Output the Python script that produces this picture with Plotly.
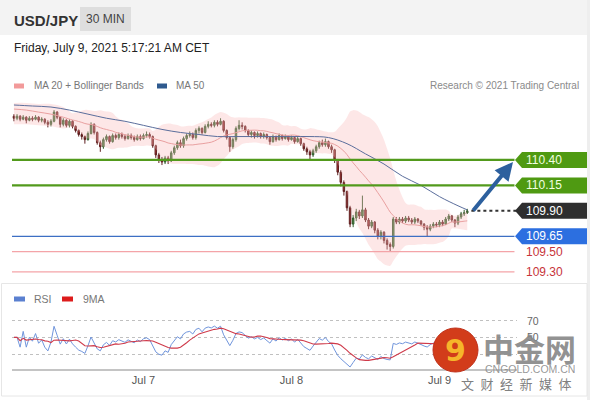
import pandas as pd
import numpy as np
import plotly.graph_objects as go

# ---------------- data ----------------
SYMBOL = "USD/JPY"
TIMEFRAME = "30 MIN"
STAMP = "Friday, July 9, 2021 5:17:21 AM CET"
START = "2021-07-06 03:00"
first_open = 110.83

close = [110.81,110.83,110.80,110.82,110.79,110.81,110.80,110.82,110.79,110.80,
         110.77,110.75,110.78,110.87,110.82,110.75,110.79,110.74,110.78,110.73,
         110.69,110.65,110.63,110.60,110.66,110.75,110.67,110.57,110.53,110.60,
         110.63,110.58,110.64,110.62,110.65,110.63,110.61,110.64,110.62,110.60,
         110.63,110.61,110.64,110.65,110.63,110.54,110.45,110.40,110.38,110.42,
         110.39,110.47,110.52,110.57,110.54,110.61,110.64,110.65,110.62,110.69,
         110.71,110.67,110.73,110.75,110.74,110.77,110.75,110.78,110.69,110.62,
         110.53,110.60,110.71,110.74,110.73,110.69,110.65,110.67,110.64,110.66,
         110.63,110.65,110.62,110.58,110.63,110.60,110.64,110.61,110.63,110.60,
         110.62,110.58,110.61,110.56,110.51,110.48,110.45,110.49,110.53,110.57,
         110.55,110.58,110.53,110.50,110.40,110.28,110.18,110.09,109.93,109.77,
         109.83,109.89,109.85,109.91,109.81,109.75,109.79,109.71,109.65,109.69,
         109.61,109.57,109.55,109.82,109.79,109.82,109.80,109.83,109.81,109.79,
         109.82,109.80,109.77,109.74,109.72,109.75,109.77,109.76,109.79,109.77,
         109.82,109.85,109.81,109.78,109.84,109.87,109.88,109.90]

high = [110.85,110.85,110.84,110.84,110.83,110.83,110.83,110.84,110.83,110.82,
        110.81,110.79,110.80,110.89,110.88,110.83,110.81,110.80,110.80,110.79,
        110.74,110.70,110.67,110.64,110.68,110.77,110.76,110.68,110.59,110.62,
        110.65,110.64,110.66,110.66,110.67,110.67,110.65,110.66,110.66,110.64,
        110.65,110.65,110.66,110.68,110.67,110.64,110.55,110.47,110.43,110.44,
        110.44,110.49,110.54,110.59,110.60,110.63,110.66,110.68,110.67,110.71,
        110.73,110.72,110.75,110.78,110.77,110.79,110.79,110.81,110.79,110.70,
        110.63,110.62,110.73,110.79,110.77,110.74,110.70,110.69,110.68,110.68,
        110.67,110.67,110.66,110.63,110.65,110.64,110.66,110.65,110.65,110.64,
        110.64,110.63,110.63,110.62,110.57,110.53,110.50,110.51,110.55,110.59,
        110.60,110.61,110.59,110.55,110.51,110.41,110.30,110.20,110.10,109.95,
        109.86,109.92,109.91,110.05,109.93,109.83,109.81,109.80,109.73,109.71,
        109.70,109.63,109.59,109.84,109.84,109.84,109.84,109.85,109.85,109.83,
        109.84,109.83,109.81,109.78,109.76,109.77,109.79,109.79,109.81,109.81,
        109.84,109.87,109.86,109.82,109.86,109.89,109.91,109.92]

low = [110.78,110.79,110.78,110.79,110.76,110.78,110.78,110.79,110.77,110.77,
       110.75,110.72,110.73,110.77,110.80,110.72,110.73,110.72,110.72,110.71,
       110.67,110.63,110.60,110.56,110.59,110.65,110.65,110.55,110.48,110.51,
       110.58,110.56,110.57,110.60,110.60,110.61,110.59,110.60,110.60,110.58,
       110.59,110.59,110.60,110.62,110.61,110.52,110.42,110.37,110.35,110.36,
       110.36,110.38,110.45,110.50,110.52,110.52,110.59,110.62,110.60,110.60,
       110.66,110.65,110.66,110.71,110.72,110.72,110.73,110.74,110.67,110.60,
       110.48,110.51,110.58,110.69,110.70,110.67,110.63,110.62,110.61,110.62,
       110.61,110.61,110.60,110.55,110.57,110.58,110.59,110.59,110.60,110.58,
       110.59,110.56,110.57,110.54,110.49,110.45,110.40,110.43,110.47,110.51,
       110.53,110.53,110.51,110.47,110.37,110.25,110.14,110.05,109.90,109.74,
       109.74,109.80,109.82,109.83,109.79,109.72,109.73,109.68,109.62,109.62,
       109.58,109.52,109.50,109.53,109.77,109.77,109.78,109.78,109.79,109.77,
       109.77,109.78,109.75,109.71,109.65,109.70,109.73,109.74,109.74,109.75,
       109.76,109.80,109.79,109.74,109.76,109.82,109.85,109.87]

# Bollinger values at the left edge (window history lies before the visible candles)
bb_early_idx = [0, 4, 8, 12, 16]
bb_early_upper = [110.96, 110.96, 110.95, 110.95, 110.92]
bb_early_mid = [110.90, 110.89, 110.87, 110.85, 110.82]
bb_early_lower = [110.75, 110.75, 110.74, 110.73, 110.71]

ma50_idx = [0,6,12,18,24,30,36,42,48,54,60,66,72,78,84,90,96,102,108,114,120,126,132,138,144,147]
ma50_val = [110.94,110.93,110.92,110.89,110.85,110.81,110.78,110.74,110.70,110.67,110.65,110.63,110.63,
            110.63,110.63,110.63,110.63,110.62,110.56,110.46,110.36,110.24,110.15,110.04,109.95,109.91]

green_levels = [110.40, 110.15]
blue_level = 109.65
red_levels = [109.50, 109.30]
last_level = 109.90
rsi_levels = [70, 50, 30]
rsi_labels = [70, 50]
date_ticks = ["2021-07-07", "2021-07-08", "2021-07-09"]
date_labels = ["Jul 7", "Jul 8", "Jul 9"]

# ---------------- helpers ----------------
W, H = 590, 400
def X(p): return p / W
def Y(p): return 1 - p / H
FONT = "Liberation Sans, Arial, sans-serif"

times = pd.date_range(START, periods=len(close), freq="30min")
opens = [first_open] + close[:-1]
s = pd.Series(close)
FULL = 19
ma20 = s.rolling(20).mean()
sd = s.rolling(20).std(ddof=0)
band_idx = bb_early_idx + list(range(FULL, len(close)))
band_up = bb_early_upper + list((ma20 + 2 * sd)[FULL:])
band_mid = bb_early_mid + list(ma20[FULL:])
band_lo = bb_early_lower + list((ma20 - 2 * sd)[FULL:])
band_x = times[band_idx]

d = s.diff()
gain = d.clip(lower=0)
loss = -d.clip(upper=0)
ag = gain.ewm(alpha=1/14, adjust=True).mean()
al = loss.ewm(alpha=1/14, adjust=True).mean()
rsi = 100 - 100 / (1 + ag / al.replace(0, np.nan))
rsi = rsi.fillna(50)
rsi_ma = rsi.rolling(9, min_periods=1).mean()

x_left = pd.Timestamp("2021-07-06 02:41")
x_right = pd.Timestamp("2021-07-09 12:34")

fig = go.Figure()
fig.add_trace(go.Scatter(x=band_x, y=band_up, mode="lines", line=dict(width=0, color="rgba(0,0,0,0)", shape="spline"),
                         hoverinfo="skip"))
fig.add_trace(go.Scatter(x=band_x, y=band_lo, mode="lines", line=dict(width=0, color="rgba(0,0,0,0)", shape="spline"),
                         fill="tonexty", fillcolor="rgba(250,185,185,0.35)", hoverinfo="skip"))
fig.add_trace(go.Scatter(x=band_x, y=band_mid, mode="lines", line=dict(color="#e9a0a0", width=1, shape="spline")))
fig.add_trace(go.Scatter(x=times[ma50_idx], y=ma50_val, mode="lines",
                         line=dict(color="#5b6e9c", width=1, shape="spline")))
fig.add_trace(go.Candlestick(x=times, open=opens, high=high, low=low, close=close,
                             increasing=dict(line=dict(color="#2f5a2a", width=1), fillcolor="#4d8a40"),
                             decreasing=dict(line=dict(color="#5e1f1f", width=1), fillcolor="#b03434"),
                             whiskerwidth=0))

fig.add_trace(go.Scatter(x=times, y=rsi, mode="lines", line=dict(color="#7095dc", width=1), xaxis="x2", yaxis="y2"))
fig.add_trace(go.Scatter(x=times, y=rsi_ma, mode="lines", line=dict(color="#cf3a4a", width=1.1), xaxis="x2", yaxis="y2"))

shapes = []
annotations = []
# background cards
shapes.append(dict(type="rect", xref="paper", yref="paper", x0=0, x1=1, y0=Y(35), y1=1,
                   fillcolor="#f3f3f3", line=dict(width=0), layer="below"))
shapes.append(dict(type="rect", xref="paper", yref="paper", x0=X(80), x1=X(131), y0=Y(31), y1=Y(7),
                   fillcolor="#dedede", line=dict(width=0), layer="below"))
shapes.append(dict(type="rect", xref="paper", yref="paper", x0=X(587), x1=1, y0=0, y1=1,
                   fillcolor="#eeeeee", line=dict(width=0), layer="below"))
shapes.append(dict(type="rect", xref="paper", yref="paper", x0=X(1.5), x1=X(587), y0=Y(396), y1=Y(283.5),
                   fillcolor="rgba(0,0,0,0)", line=dict(width=1, color="#e6e6e6"), layer="below"))

# legend swatches
for x0, col in [(14, "#f29a9a"), (157, "#2f5a8f")]:
    shapes.append(dict(type="rect", xref="paper", yref="paper", x0=X(x0), x1=X(x0 + 10), y0=Y(88.5), y1=Y(83.5),
                       fillcolor=col, line=dict(width=0)))
for x0, col in [(14, "#5b80d0"), (62, "#dd1c1c")]:
    shapes.append(dict(type="rect", xref="paper", yref="paper", x0=X(x0), x1=X(x0 + 11), y0=Y(301.5), y1=Y(296.5),
                       fillcolor=col, line=dict(width=0)))

# level lines
for lv in green_levels:
    shapes.append(dict(type="line", xref="x domain", yref="y", x0=0, x1=0.995, y0=lv, y1=lv,
                       line=dict(color="#529a1c", width=2.2)))
shapes.append(dict(type="line", xref="x domain", yref="y", x0=0, x1=0.995, y0=blue_level, y1=blue_level,
                   line=dict(color="#3d6fc4", width=1.3)))
for lv in red_levels:
    shapes.append(dict(type="line", xref="x domain", yref="y", x0=0, x1=0.995, y0=lv, y1=lv,
                       line=dict(color="#f4a4a8", width=1.2)))
shapes.append(dict(type="line", xref="x", yref="y", x0=times[-1] + pd.Timedelta("40min"), x1=x_right,
                   y0=last_level, y1=last_level, line=dict(color="#333333", width=2, dash="dot")))

# tags
tag_path = "M0,0 L7,8 L72,8 L72,-8 L7,-8 Z"
tags = [(green_levels[0], "#4f9a12", "#f2ffe0"), (green_levels[1], "#4f9a12", "#f2ffe0"),
        (last_level, "#2e2e2e", "#ffffff"), (blue_level, "#2c6fe0", "#ffffff")]
for lv, bg, fg in tags:
    shapes.append(dict(type="path", xref="paper", yref="y", xsizemode="pixel", ysizemode="pixel",
                       xanchor=X(515), yanchor=lv, path=tag_path, fillcolor=bg, line=dict(width=0)))
    annotations.append(dict(xref="paper", yref="y", x=X(524), y=lv, xanchor="left", yanchor="middle",
                            text=f"{lv:.2f}", showarrow=False, font=dict(family=FONT, size=12, color=fg)))
for lv in red_levels:
    annotations.append(dict(xref="paper", yref="y", x=X(524), y=lv, xanchor="left", yanchor="middle",
                            text=f"{lv:.2f}", showarrow=False, font=dict(family=FONT, size=12, color="#c7343a")))

# arrow
annotations.append(dict(xref="paper", yref="y", x=X(513), y=110.38, ax=-41, ay=50, axref="pixel", ayref="pixel",
                        showarrow=True, arrowhead=2, arrowsize=0.9, arrowwidth=4, arrowcolor="#2d609e", text=""))

# texts
annotations += [
    dict(xref="paper", yref="paper", x=X(12), y=Y(20), xanchor="left", yanchor="middle", showarrow=False,
         text=f"<b>{SYMBOL}</b>", font=dict(family=FONT, size=15, color="#333333")),
    dict(xref="paper", yref="paper", x=X(105.5), y=Y(19), xanchor="center", yanchor="middle", showarrow=False,
         text=TIMEFRAME, font=dict(family=FONT, size=12, color="#444444")),
    dict(xref="paper", yref="paper", x=X(12), y=Y(48), xanchor="left", yanchor="middle", showarrow=False,
         text=STAMP, font=dict(family=FONT, size=12, color="#222222")),
    dict(xref="paper", yref="paper", x=X(32), y=Y(86), xanchor="left", yanchor="middle", showarrow=False,
         text="MA 20 + Bollinger Bands", font=dict(family=FONT, size=10, color="#777777")),
    dict(xref="paper", yref="paper", x=X(174), y=Y(86), xanchor="left", yanchor="middle", showarrow=False,
         text="MA 50", font=dict(family=FONT, size=10, color="#777777")),
    dict(xref="paper", yref="paper", x=X(581), y=Y(86), xanchor="right", yanchor="middle", showarrow=False,
         text="Research © 2021 Trading Central", font=dict(family=FONT, size=10, color="#8a8a8a")),
    dict(xref="paper", yref="paper", x=X(32), y=Y(299), xanchor="left", yanchor="middle", showarrow=False,
         text="RSI", font=dict(family=FONT, size=10.5, color="#777777")),
    dict(xref="paper", yref="paper", x=X(81), y=Y(299), xanchor="left", yanchor="middle", showarrow=False,
         text="9MA", font=dict(family=FONT, size=10.5, color="#777777")),
]
for v in rsi_labels:
    annotations.append(dict(xref="paper", yref="y2", x=X(525), y=v, xanchor="left", yanchor="middle",
                            showarrow=False, text=str(v), font=dict(family=FONT, size=10.5, color="#666666")))

# watermark
shapes.append(dict(type="circle", xref="paper", yref="paper", x0=X(433), x1=X(478), y0=Y(372), y1=Y(328),
                   fillcolor="#d23c1a", line=dict(color="#c0301a", width=1), layer="above"))
annotations += [
    dict(xref="paper", yref="paper", x=X(455), y=Y(350), xanchor="center", yanchor="middle", showarrow=False,
         text="<b>9</b>", font=dict(family="DejaVu Sans", size=30, color="#f6b52a")),
    dict(xref="paper", yref="paper", x=X(529), y=Y(347), xanchor="center", yanchor="middle", showarrow=False,
         text="<b>中金网</b>", font=dict(family="Noto Sans CJK SC", size=31, color="rgba(135,135,135,0.92)")),
    dict(xref="paper", yref="paper", x=X(530), y=Y(369), xanchor="center", yanchor="middle", showarrow=False,
         text="CNGOLD.COM.CN", font=dict(family=FONT, size=10.5, color="rgba(140,140,140,0.9)")),
    dict(xref="paper", yref="paper", x=X(516), y=Y(383), xanchor="center", yanchor="middle", showarrow=False,
         text="文\u2002财\u2002经\u2002新\u2002媒\u2002体",
         font=dict(family="Noto Sans CJK SC", size=13, color="rgba(110,110,110,0.9)")),
]

fig.update_layout(
    width=W, height=H, margin=dict(l=0, r=0, t=0, b=0),
    paper_bgcolor="white", plot_bgcolor="rgba(0,0,0,0)", showlegend=False,
    font=dict(family=FONT),
    xaxis=dict(domain=[X(12), X(517)], range=[x_left, x_right], visible=False,
               rangeslider=dict(visible=False), anchor="y"),
    yaxis=dict(domain=[Y(280), Y(100)], range=[109.221, 110.989], visible=False, anchor="x"),
    xaxis2=dict(domain=[X(12), X(517)], range=[x_left, x_right], anchor="y2", matches="x",
                showline=True, linecolor="#c4c4c4", linewidth=2, showgrid=False, zeroline=False,
                tickvals=pd.to_datetime(date_ticks), ticktext=date_labels, ticks="",
                tickfont=dict(family=FONT, size=11, color="#555555")),
    yaxis2=dict(domain=[Y(369), Y(300)], range=[12, 94.9], anchor="x2", tickvals=rsi_levels,
                showticklabels=False, showgrid=True, gridcolor="#c0c0c0", griddash="dot", gridwidth=1,
                zeroline=False, showline=False),
    shapes=shapes, annotations=annotations,
)

fig.write_html("out.html", config={"displayModeBar": False},
               post_script="document.body.style.margin='0';document.body.style.overflow='hidden';")
